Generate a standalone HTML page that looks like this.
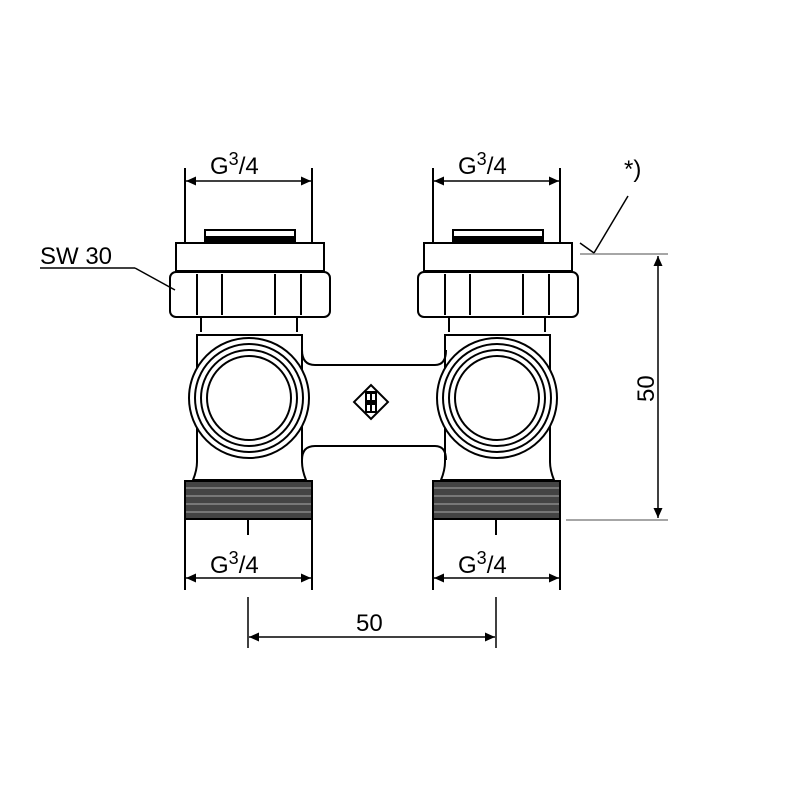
<!DOCTYPE html>
<html><head><style>body{margin:0;background:#fff}svg{display:block}</style></head><body>
<svg width="800" height="800" viewBox="0 0 800 800" xmlns="http://www.w3.org/2000/svg" font-family="Liberation Sans, sans-serif">
<defs>
<marker id="a" viewBox="0 0 10 10" refX="10" refY="5" markerWidth="14" markerHeight="10" orient="auto-start-reverse" markerUnits="userSpaceOnUse"><path d="M0,0.5 L10,5 L0,9.5 z" fill="#000"/></marker>
<g id="v" stroke="#000" stroke-width="2" fill="#fff">
  <line x1="185" y1="168" x2="185" y2="242"/>
  <line x1="312" y1="168" x2="312" y2="242"/>
  <rect x="205" y="230" width="90" height="13" fill="#fff"/>
  <rect x="205" y="237" width="90" height="6" fill="#000"/>
  <rect x="176" y="243" width="148" height="28"/>
  <rect x="170" y="272" width="160" height="45" rx="6"/>
  <line x1="197" y1="274" x2="197" y2="315"/>
  <line x1="222" y1="274" x2="222" y2="315"/>
  <line x1="275" y1="274" x2="275" y2="315"/>
  <line x1="301" y1="274" x2="301" y2="315"/>
  <path d="M201,317 V332 M297,317 V332"/>
  <path d="M197,335 H302 V462 Q302,470 306,480 H193 Q197,470 197,462 Z"/>
  <circle cx="249" cy="398" r="60"/>
  <circle cx="249" cy="398" r="54"/>
  <circle cx="249" cy="398" r="48"/>
  <circle cx="249" cy="398" r="42"/>
  <rect x="185" y="481" width="127" height="38" fill="#444"/>
  <path d="M186,488 H311 M186,496 H311 M186,504 H311 M186,512 H311" stroke="#888" stroke-width="1.5"/>
  <line x1="185" y1="519" x2="185" y2="590"/>
  <line x1="312" y1="519" x2="312" y2="590"/>
  <line x1="248" y1="519" x2="248" y2="535"/>
</g>
</defs>
<use href="#v"/>
<use href="#v" transform="translate(248,0)"/>
<g stroke="#000" stroke-width="2" fill="none">
<path d="M302,350 Q302,365 315,365 H435 Q446,365 446,350"/>
<path d="M302,460 Q302,446 315,446 H435 Q446,446 446,460"/>
</g>
<g transform="translate(371,402)">
<rect x="-12" y="-12" width="24" height="24" transform="rotate(45)" fill="#fff" stroke="#000" stroke-width="2"/>
<rect x="-6" y="-11" width="12" height="22" fill="#000"/>
<rect x="-4" y="-8" width="8" height="6" fill="#fff"/><rect x="-4" y="3" width="8" height="6" fill="#fff"/>
<line x1="0" y1="-9" x2="0" y2="9" stroke="#000" stroke-width="2"/>
</g>
<g stroke="#000" stroke-width="1.5">
<line x1="186" y1="181" x2="311" y2="181" marker-start="url(#a)" marker-end="url(#a)"/>
<line x1="434" y1="181" x2="559" y2="181" marker-start="url(#a)" marker-end="url(#a)"/>
<line x1="186" y1="578" x2="311" y2="578" marker-start="url(#a)" marker-end="url(#a)"/>
<line x1="434" y1="578" x2="559" y2="578" marker-start="url(#a)" marker-end="url(#a)"/>
<line x1="248" y1="597" x2="248" y2="648"/>
<line x1="496" y1="597" x2="496" y2="648"/>
<line x1="249" y1="637" x2="495" y2="637" marker-start="url(#a)" marker-end="url(#a)"/>
<line x1="580" y1="254" x2="668" y2="254" stroke="#888"/>
<line x1="566" y1="520" x2="668" y2="520" stroke="#888"/>
<line x1="658" y1="256" x2="658" y2="518" marker-start="url(#a)" marker-end="url(#a)"/>
<line x1="628" y1="196" x2="594" y2="253"/>
<line x1="580" y1="243" x2="594" y2="253"/>
<line x1="40" y1="268" x2="135" y2="268"/>
<line x1="135" y1="268" x2="175" y2="290"/>
</g>
<g font-size="24" fill="#000">
<text x="210" y="174">G<tspan font-size="18" dy="-9">3</tspan><tspan dy="9">/4</tspan></text>
<text x="458" y="174">G<tspan font-size="18" dy="-9">3</tspan><tspan dy="9">/4</tspan></text>
<text x="210" y="573">G<tspan font-size="18" dy="-9">3</tspan><tspan dy="9">/4</tspan></text>
<text x="458" y="573">G<tspan font-size="18" dy="-9">3</tspan><tspan dy="9">/4</tspan></text>
<text x="356" y="631">50</text>
<text x="40" y="264">SW 30</text>
<text x="624" y="177">*)</text>
<text transform="translate(654,402) rotate(-90)">50</text>
</g>
</svg>
</body></html>
